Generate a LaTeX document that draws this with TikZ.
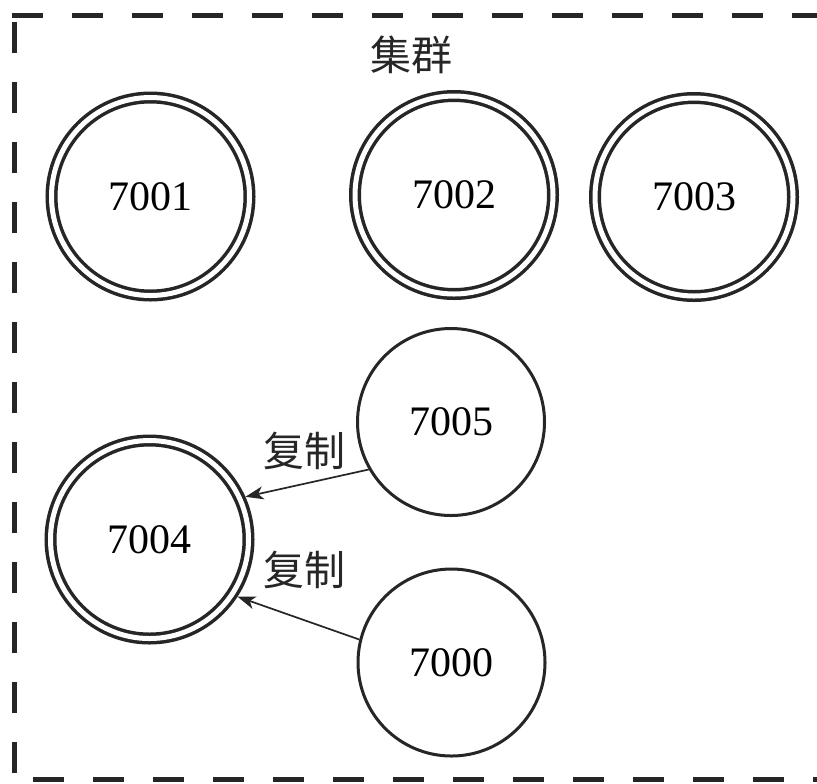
\documentclass[tikz,border=0pt]{standalone}
\usepackage{fontspec}
\setmainfont{Liberation Serif}
\newfontfamily\cjk{Noto Sans CJK SC}
\usetikzlibrary{arrows.meta}
\begin{document}
\begin{tikzpicture}[x=0.5pt,y=-0.5pt,
  dblnode/.style={circle,draw=black!85,line width=1.75pt,double=white,double distance=2.5pt,
    minimum size=99pt,inner sep=0pt,outer sep=3pt,font=\fontsize{21pt}{21pt}\selectfont},
  snode/.style={circle,draw=black!85,line width=1.5pt,minimum size=93.5pt,inner sep=0pt,
    font=\fontsize{21pt}{21pt}\selectfont},
  border/.style={line width=2.5pt,draw=black!85,dash pattern=on 15.5pt off 14.5pt},
  lbl/.style={font=\cjk\fontsize{20.5pt}{20.5pt}\selectfont,text=black!85,inner sep=0pt},
  rep/.style={draw=black!85,line width=0.85pt,-{Stealth[length=9pt,width=6.5pt,inset=2.5pt]}}]
\useasboundingbox (0,0) rectangle (817,783);
\fill[white] (0,0) rectangle (817,783);
% dashed frame
\draw[border] (12,15.5) -- (840,15.5);
\draw[border] (14.5,22) -- (14.5,776);
\draw[border] (33,779.5) -- (840,779.5);
% title
\node[lbl] (title) at (411,55) {集群};
% nodes
\node[dblnode] (n7001) at (150.5,196.5) {7001};
\node[dblnode] (n7002) at (454,195) {7002};
\node[dblnode] (n7003) at (694,197) {7003};
\node[dblnode] (n7004) at (149.5,539.5) {7004};
\node[snode] (n7005) at (451,422) {7005};
\node[snode] (n7000) at (451.5,662.5) {7000};
% replication arrows
\draw[rep] (n7005.210) -- (n7004.24);
\draw[rep] (n7000.166.5) -- (n7004.-33.5);
\node[lbl] (r1) at (304,451) {复制};
\node[lbl] (r2) at (304,570) {复制};
\end{tikzpicture}
\end{document}
